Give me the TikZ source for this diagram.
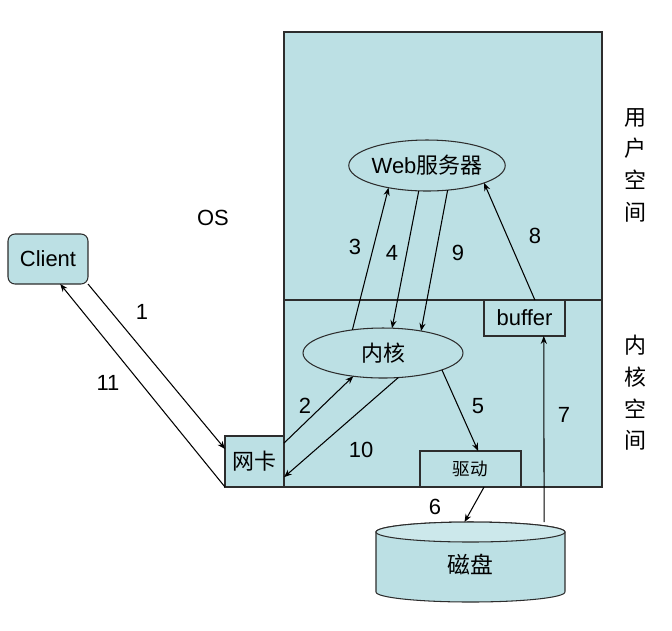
\documentclass[tikz,border=0pt]{standalone}
\usepackage{fontspec}
\setmainfont{Liberation Sans}
\newfontfamily\cjk{Noto Sans CJK SC}
\usetikzlibrary{arrows.meta,shapes.geometric}
\definecolor{paleteal}{RGB}{188,224,228}
\definecolor{topteal}{RGB}{204,232,235}
\definecolor{edgegray}{RGB}{45,45,45}

\begin{document}
\begin{tikzpicture}[x=0.02cm,y=0.02cm,>={Stealth[length=4.5pt,width=3.5pt]},every node/.style={font=\fontsize{12.5}{15}\selectfont},box/.style={draw=edgegray,fill=paleteal,line width=0.6pt,inner sep=0pt,outer sep=0pt},oval/.style={ellipse,draw=edgegray,fill=paleteal,line width=0.6pt,inner sep=0pt,outer sep=0pt},flow/.style={->,line width=0.6pt},vtext/.style={align=center,font=\cjk\fontsize{12.5}{18}\selectfont}]
\useasboundingbox (0,0) rectangle (672,-630);
% OS area, split into user and kernel space
\draw[draw=edgegray,fill=paleteal,line width=0.6pt] (284,-32) rectangle (602,-487);\draw[edgegray,line width=0.6pt] (284,-300)--(602,-300);
\node (os) at (213,-218) {OS};
\node[vtext] (userspace) at (635,-165) {用\\户\\空\\间};
\node[vtext] (kernelspace) at (635,-393) {内\\核\\空\\间};
% disk
\draw[draw=edgegray,fill=paleteal,line width=0.6pt] (376,-532)--(376,-592) arc[start angle=180,end angle=360,x radius=1.89cm,y radius=0.2cm]--(565,-532) arc[start angle=0,end angle=180,x radius=1.89cm,y radius=0.2cm]--cycle;
\draw[draw=edgegray,fill=topteal,line width=0.6pt] (470.5,-532) ellipse[x radius=1.89cm,y radius=0.2cm];
\node[minimum width=3.78cm,minimum height=1.7cm,inner sep=0pt,outer sep=0pt,font=\cjk\fontsize{13}{15}\selectfont] (disk) at (470.5,-564.5) {磁盘};
% boxes and ovals
\node[box,rounded corners=4pt,minimum width=1.6cm,minimum height=1cm] (client) at (48,-259) {Client};
\node[box,minimum width=1.18cm,minimum height=1.02cm,font=\cjk\fontsize{12.5}{15}\selectfont] (nic) at (254.5,-461.5) {网卡};
\node[oval,minimum width=2.92cm,minimum height=1.02cm] (web) at (427,-165.5) {Web\cjk 服务器};
\node[oval,minimum width=3.2cm,minimum height=1cm,font=\cjk\fontsize{12.5}{15}\selectfont] (kernel) at (383,-353) {内核};
\node[box,minimum width=1.62cm,minimum height=0.72cm] (buffer) at (524.5,-318) {buffer};
\node[box,minimum width=2.02cm,minimum height=0.72cm,font=\cjk\fontsize{10}{12}\selectfont] (driver) at (470.5,-469) {驱动};
% request and response
\draw[flow] (client.south east)--(nic.157);\draw[flow] (nic.south west)--(client.-64);
\draw[flow] (nic.32)--(kernel.-142);\draw[flow] (kernel.-58)--(nic.-28);
\draw[flow] (kernel.143)--(web.210);\draw[flow] (web.-108)--(kernel.70);\draw[flow] (web.-50)--(kernel.30);
\draw[flow] (buffer.60)--(web.-17);
\draw[flow] (kernel.-16)--(driver.67);\draw[flow] (driver.-53)--(disk.98.7);\draw[flow] (disk.30)--(buffer.-43);
% step numbers
\node (n1) at (142,-312) {1};\node (n2) at (305,-406) {2};\node (n3) at (355,-247) {3};\node (n4) at (392,-253) {4};
\node (n5) at (478,-406) {5};\node (n6) at (435,-507) {6};\node (n7) at (564,-415) {7};\node (n8) at (535,-236) {8};
\node (n9) at (458,-253) {9};\node (n10) at (361,-450) {10};\node (n11) at (108,-383) {11};
\end{tikzpicture}
\end{document}
